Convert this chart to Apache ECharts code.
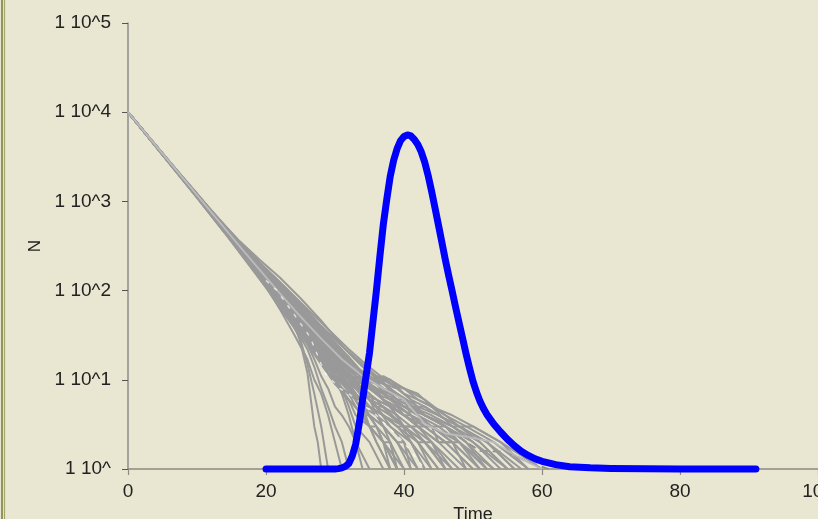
<!DOCTYPE html>
<html><head><meta charset="utf-8">
<script src="https://cdn.jsdelivr.net/npm/echarts@6/dist/echarts.min.js"></script>
<style>html,body{margin:0;padding:0;background:#E9E7D2;overflow:hidden;} #c{width:818px;height:519px;}</style>
</head><body><div id="c"></div>
<script>
// Axis settings / tick labels
const xTicks = [0, 20, 40, 60, 80, 100];
const yDecades = [1, 10, 100, 1000, 10000, 100000];
const xName = 'Time';
const yName = 'N';

// Blue curve: [time, N]
const blueCurve = [
  [20,1],[25,1],[30,1],[30.5,1.01],[31,1.03],[31.5,1.07],[32,1.15],[32.5,1.4],[33,1.9],[33.5,3.2],[34,6],
  [34.5,11],[35,20],[35.5,45],[36,100],[36.5,240],[37,550],[37.5,1050],[38,1900],[38.5,2900],[39,3900],
  [39.5,4800],[40,5350],[40.5,5560],[41,5420],[41.5,4950],[42,4350],[42.5,3600],[43,2750],[43.5,1950],
  [44,1300],[44.5,840],[45,540],[45.5,345],[46,220],[46.5,145],[47,97],[47.5,64],[48,43],[48.5,29],
  [49,19.5],[49.5,13.5],[50,9.6],[50.5,7.3],[51,5.8],[51.5,4.8],[52,4.1],[53,3.2],[54,2.6],[55,2.15],
  [56,1.82],[57,1.58],[58,1.42],[59,1.3],[60,1.22],[62,1.12],[64,1.06],[67,1.03],[70,1.015],[75,1.005],
  [80,1],[91,1]
];

// Grey stochastic runs: [time, N]
const run01 = [[0,10000],[6,2750],[12,760],[16,320],[19,170],[22,88],[25,46],[28,24],[31,13],[34,8],[36,6],[38,4],[40,3],[42,2],[45,1]];
const run02 = [[0,10000],[6,2700],[12,720],[16,290],[19,145],[22,70],[25,36],[28,18],[30,10],[32,6],[34,4],[35,3],[37,2],[39,1]];
const run03 = [[0,10000],[6,2790],[12,790],[16,360],[19,210],[22,125],[25,72],[28,40],[31,24],[34,15],[36,11],[38,8],[40,6],[43,4],[47,3],[51,2],[55,1]];
const run04 = [[0,10000],[6,2740],[12,740],[16,305],[19,160],[22,80],[25,40],[27,26],[29,17],[31,12],[33,9],[35,6],[37,5],[40,3],[43,2],[46,1]];
const run05 = [[0,10000],[6,2720],[12,730],[16,298],[19,150],[22,74],[24,45],[25,26],[26,12],[26.5,6],[27,3],[27.5,2],[28,1]];
const run06 = [[0,10000],[6,2800],[12,775],[16,335],[19,185],[22,102],[25,56],[28,31],[31,18],[33,12],[35,10],[37,9],[38.5,7],[40,6],[41,4],[43,3],[46,2],[50,1]];
const run07 = [[0,10000],[6,2710],[12,725],[16,285],[19,140],[22,68],[25,33],[28,17],[30,11],[32,8],[33.5,5],[35,3],[36,2],[38,1]];
const run08 = [[0,10000],[6,2760],[12,755],[16,315],[19,168],[22,92],[25,50],[28,29],[31,16],[33,11],[35,8],[37,7],[39,6],[41,5],[43,5],[45,4],[48,3],[52,2],[57,1]];
const run09 = [[0,10000],[6,2735],[12,738],[16,300],[19,155],[22,78],[25,38],[28,20],[30,11],[31,7],[32,4],[33,2],[34,1]];
const run10 = [[0,10000],[6,2770],[12,770],[16,330],[19,182],[22,104],[25,58],[28,32],[31,17],[33,11],[34,10],[36,9],[37.5,10],[39,8],[41,6],[43,4],[46,3],[49,2],[53,1]];
const run11 = [[0,10000],[6,2745],[12,748],[16,310],[19,162],[22,84],[25,43],[28,23],[31,11],[33,7],[35,4],[37,3],[39,2],[42,1]];
const run12 = [[0,10000],[6,2725],[12,732],[16,292],[19,146],[22,72],[25,35],[28,17],[29,12],[30,9],[31,8],[32,5],[33,3],[35,2],[37,1]];
const run13 = [[0,10000],[6,2785],[12,785],[16,350],[19,205],[22,118],[25,68],[28,40],[31,24],[33,17],[35,12],[37,9],[39,7],[42,5],[45,4],[48,3],[52,2],[56,1]];
const run14 = [[0,10000],[6,2755],[12,752],[16,318],[19,172],[22,90],[25,47],[28,25],[31,14],[33,10],[35,6],[37,4],[39,3],[41,2],[43,1]];
const run15 = [[0,10000],[6,2715],[12,728],[16,288],[19,142],[22,66],[25,30],[26,22],[27,14],[28,8],[29,5],[30,3],[31,2],[32,1]];
const run16 = [[0,10000],[6,2765],[12,765],[16,325],[19,175],[22,94],[25,49],[28,27],[31,15],[33,11],[35,9],[37,6],[39,5],[41,4],[44,3],[47,2],[51,1]];
const run17 = [[0,10000],[6,2748],[12,750],[16,312],[19,165],[22,86],[25,45],[28,22],[30,13],[32,9],[33,7],[34,4],[35,3],[36,2],[38,1]];
const run18 = [[0,10000],[6,2795],[12,795],[16,370],[19,225],[22,140],[25,82],[28,46],[30,30],[32,20],[34,14],[36,11],[38,10],[40,8],[43,6],[46,4],[49,3],[53,2],[58,1]];
const run19 = [[0,10000],[6,2738],[12,742],[16,302],[19,158],[22,81],[25,41],[28,21],[31,12],[33,8],[35,5],[37,4],[40,3],[43,2],[47,1]];
const run20 = [[0,10000],[6,2758],[12,758],[16,316],[19,166],[22,87],[25,44],[28,24],[31,13],[33,9],[35,7],[36,5],[38,3],[40,2],[41,1]];
const run21 = [[0,10000],[6,2728],[12,735],[16,296],[19,152],[22,76],[25,37],[28,19],[30,12],[32,8],[34,5],[36,4],[38,3],[41,2],[44,1]];
const run22 = [[0,10000],[6,2775],[12,772],[16,335],[19,190],[22,110],[25,62],[28,34],[31,19],[33,13],[35,10],[36,11],[38,9],[40,8],[42,6],[44,5],[47,3],[50,2],[54,1]];
const run23 = [[0,10000],[6,2742],[12,745],[16,306],[19,163],[22,83],[25,42],[28,23],[30,15],[32,10],[34,8],[36,6],[38,5],[40,4],[42,3],[45,2],[49,1]];
const run24 = [[0,10000],[6,2768],[12,762],[16,322],[19,170],[22,89],[25,48],[28,26],[31,14],[33,9],[35,6],[37,3],[38,2],[40,1]];
const run25 = [[0,10000],[6,2732],[12,738],[16,298],[19,154],[22,77],[25,39],[28,20],[30,13],[32,10],[34,7],[36,5],[38,4],[40,3],[42,2],[44,2],[46,1]];
const run26 = [[0,10000],[6,2780],[12,780],[16,345],[19,200],[22,115],[25,66],[28,38],[31,21],[33,14],[35,11],[37,8],[39,6],[41,5],[44,4],[47,3],[50,3],[54,2],[60,1]];
const run27 = [[0,10000],[6,2752],[12,754],[16,314],[19,167],[22,85],[25,42],[28,22],[30,14],[32,11],[34,9],[36,8],[38,6],[40,5],[42,4],[44,3],[47,2],[51,1]];
const run28 = [[0,10000],[6,2722],[12,730],[16,294],[19,148],[22,71],[25,34],[27,20],[29,12],[31,8],[33,6],[35,5],[37,4],[39,3],[42,2],[45,1]];
const run29 = [[0,10000],[6,2762],[12,760],[16,320],[19,171],[22,91],[25,48],[28,26],[31,16],[34,11],[36,9],[38,6],[41,4],[44,3],[48,2],[52,1]];
const run30 = [[0,10000],[6,2746],[12,748],[16,308],[19,161],[22,82],[25,43],[28,24],[30,14],[32,9],[33,6],[34,5],[36,3],[38,2],[39,1]];
const run31 = [[0,10000],[5,3400],[10,1200],[14,505],[17,280],[20,155],[23,90],[26,52],[29,30],[31,20],[33,14],[35,10],[37,8],[39,7],[41,5],[43,4],[46,3],[50,2],[55,1]];
const run32 = [[0,10000],[5,3330],[10,1110],[14,450],[17,225],[20,112],[22,62],[24,33],[26,17],[27,10],[28,7],[29,4],[30,2],[31,1]];
const run33 = [[0,10000],[5,3360],[10,1140],[14,470],[17,245],[20,122],[23,62],[26,31],[28,19],[30,13],[32,9],[34,7],[36,6],[38,5],[40,4],[42,3],[44,2],[47,1]];
const run34 = [[0,10000],[5,3420],[10,1230],[14,520],[17,300],[20,175],[23,105],[26,62],[29,37],[32,22],[34,16],[36,12],[38,9],[40,8],[42,7],[44,5],[47,4],[50,3],[54,2],[58,1]];
const run35 = [[0,10000],[5,3340],[10,1120],[14,458],[17,232],[20,114],[23,55],[25,35],[27,21],[29,13],[31,9],[33,6],[35,4],[37,3],[39,2],[41,1]];
const run36 = [[0,10000],[5,3370],[10,1160],[14,480],[17,256],[20,130],[23,67],[26,36],[29,20],[31,14],[32,11],[34,10],[36,7],[38,5],[40,3],[42,2],[44,1]];
const run37 = [[0,10000],[5,3320],[10,1100],[14,445],[17,220],[20,108],[22,64],[24,40],[25,28],[26,15],[27,7],[28,3],[29,1]];
const run38 = [[0,10000],[5,3390],[10,1190],[14,495],[17,275],[20,155],[23,88],[26,50],[29,28],[31,18],[33,12],[35,10],[37,11],[38,10],[40,7],[42,6],[44,5],[46,4],[48,3],[52,2],[56,1]];
const run39 = [[0,10000],[5,3345],[10,1125],[14,462],[17,236],[20,117],[23,58],[26,29],[28,17],[30,11],[31,7],[33,5],[35,3],[37,2],[40,1]];
const run40 = [[0,10000],[5,3365],[10,1150],[14,476],[17,250],[20,127],[23,64],[26,34],[29,18],[31,12],[33,10],[35,8],[37,6],[40,4],[43,3],[46,2],[50,1]];
const run41 = [[0,10000],[5,3410],[10,1210],[14,510],[17,290],[20,168],[23,98],[26,56],[29,32],[32,18],[34,12],[35,11],[37,9],[39,8],[41,6],[43,5],[45,4],[48,3],[51,2],[55,1]];
const run42 = [[0,10000],[5,3325],[10,1105],[14,448],[17,226],[20,110],[23,53],[26,25],[28,15],[30,9],[32,6],[33,4],[35,3],[37,2],[39,1]];
const run43 = [[0,10000],[5,3380],[10,1170],[14,485],[17,262],[20,140],[23,76],[26,42],[29,23],[31,15],[33,11],[35,8],[37,6],[39,4],[41,3],[44,2],[48,1]];
const run44 = [[0,10000],[5,3355],[10,1135],[14,466],[17,242],[20,123],[23,61],[26,32],[28,21],[30,14],[32,10],[34,9],[36,7],[38,6],[40,5],[43,4],[46,3],[49,2],[52,1]];
const run45 = [[0,10000],[5,3335],[10,1115],[14,455],[17,230],[20,115],[22,74],[24,44],[26,25],[27,17],[28,11],[29,8],[30,5],[31,4],[32,3],[33,2],[35,1]];
const run46 = [[0,10000],[5,3400],[10,1195],[14,500],[17,280],[20,158],[23,86],[26,48],[29,27],[32,15],[34,10],[36,8],[38,7],[40,5],[42,4],[45,3],[48,2],[53,1]];
const run47 = [[0,10000],[5,3372],[10,1155],[14,472],[17,248],[20,128],[23,65],[26,35],[29,19],[31,13],[33,8],[35,6],[37,5],[39,4],[41,2],[43,1]];
const run48 = [[0,10000],[5,3350],[10,1130],[14,464],[17,238],[20,120],[23,59],[26,30],[29,16],[31,10],[33,7],[35,5],[37,4],[39,3],[42,3],[45,2],[48,2],[52,1]];
const run49 = [[0,10000],[7,2200],[13,640],[17,270],[20,140],[23,72],[26,38],[28,25],[29,20],[30,17],[31,12],[32,10],[33,8],[34,8],[35,6],[36,5],[37,5],[38,4],[40,3],[41,3],[43,2],[46,1]];
const run50 = [[0,10000],[7,2180],[13,620],[17,255],[20,128],[23,64],[26,32],[27,25],[28,19],[29,15],[30,13],[31,10],[32,9],[33,7],[34,5],[35,5],[36,4],[37,3],[39,2],[40,2],[42,1]];
const run51 = [[0,10000],[7,2230],[13,660],[17,285],[20,150],[23,80],[26,43],[28,30],[29,24],[30,19],[31,16],[32,14],[33,11],[34,10],[35,9],[36,8],[37,7],[38,7],[39,6],[40,6],[41,5],[42,4],[44,3],[46,3],[48,2],[51,1]];
const run52 = [[0,10000],[7,2160],[13,610],[17,245],[20,120],[23,58],[25,37],[27,24],[29,14],[30,11],[31,8],[32,7],[33,5],[34,4],[35,4],[36,3],[37,2],[38,2],[39,1]];
const run53 = [[0,10000],[7,2210],[13,650],[17,278],[20,145],[23,76],[26,40],[28,26],[30,17],[32,12],[33,10],[34,9],[35,9],[36,8],[37,6],[38,5],[39,5],[40,4],[41,4],[42,3],[44,3],[45,2],[47,2],[49,1]];
const run54 = [[0,10000],[7,2190],[13,630],[17,262],[20,133],[23,68],[26,35],[28,22],[30,13],[31,10],[32,8],[33,6],[34,5],[35,3],[36,3],[37,2],[38,1]];
const runLight = [[0,10000],[6,2772],[12,768],[16,326],[19,174],[22,93],[25,51],[28,29],[31,17],[34,11],[37,8],[40,6],[43,3.2],[46,2.5],[49,2.3],[53,2],[55,1.6],[57,1.3],[60,1]];
const runDashed = [[0,10000],[6,2750],[12,752],[16,316],[19,168],[22,88],[25,46],[28,25],[31,15],[34,10],[37,7],[40,5],[43,4],[46,3],[49,2],[51,1.6],[55,1.55],[58,1.2],[61,1]];
const runMeanWhite = [[20,130],[21.6,100],[24,55],[26.4,30],[28.5,12],[30.7,8],[32.2,6.8],[36,4],[39.7,2.1],[42,1.26],[43,1]];

const greyRuns = [run01,run02,run03,run04,run05,run06,run07,run08,run09,run10,run11,run12,run13,run14,run15,
  run16,run17,run18,run19,run20,run21,run22,run23,run24,run25,run26,run27,run28,run29,run30,
  run31,run32,run33,run34,run35,run36,run37,run38,run39,run40,run41,run42,run43,run44,run45,run46,run47,run48,
  run49,run50,run51,run52,run53,run54];

const chart = echarts.init(document.getElementById('c'), null, {renderer:'canvas'});
const series = [];
series.push({type:'line', data:runDashed, showSymbol:false, silent:true, z:1, clip:true,
  lineStyle:{color:'#8c8c8c', width:1.8, type:[8,5]}});
greyRuns.forEach(r => series.push({
  type:'line', data:r, showSymbol:false, silent:true, z:2, clip:true,
  lineStyle:{color:'#999999', width:2}
}));
series.push({type:'line', data:runLight, showSymbol:false, silent:true, z:2, clip:true,
  lineStyle:{color:'#bbbbbb', width:1.8}});
series.push({type:'line', data:runMeanWhite, showSymbol:false, silent:true, z:3, clip:true,
  lineStyle:{color:'rgba(255,255,255,0.7)', width:1.4, type:[4,7]}});
series.push({type:'line', data:blueCurve, showSymbol:false, silent:true, z:5, clip:false, smooth:false,
  lineStyle:{color:'#0000FF', width:7, cap:'round', join:'round'}});

const font = '"Liberation Sans", Arial, sans-serif';
chart.setOption({
  animation:false,
  backgroundColor:'#E9E7D2',
  grid:{left:128, right:0, top:23, bottom:50, containLabel:false, outerBoundsMode:'none'},
  xAxis:{
    type:'value', min:xTicks[0], max:xTicks[xTicks.length-1], interval:20,
    name:xName, nameLocation:'middle', nameGap:31,
    nameTextStyle:{color:'#222', fontSize:18, fontFamily:font},
    axisLine:{show:true, onZero:false, lineStyle:{color:'#8a8a80', width:1.5}},
    axisTick:{show:true, length:6, lineStyle:{color:'#8a8a80', width:1.2}},
    axisLabel:{color:'#222', fontSize:19, fontFamily:font, margin:13},
    splitLine:{show:false}
  },
  yAxis:{
    type:'log', logBase:10, min:yDecades[0], max:yDecades[yDecades.length-1],
    name:yName, nameLocation:'middle', nameGap:83, nameRotate:90,
    nameTextStyle:{color:'#222', fontSize:17, fontFamily:font},
    axisLine:{show:true, lineStyle:{color:'#8c8c8c', width:1.5}},
    axisTick:{show:true, length:6, lineStyle:{color:'#555', width:1}},
    axisLabel:{color:'#222', fontSize:19, fontFamily:font, margin:17,
      formatter: v => { const e = Math.round(Math.log10(v)); return '1 10^' + (e === 0 ? '' : e); }},
    splitLine:{show:false}
  },
  graphic:[
    {type:'line', shape:{x1:2, y1:0, x2:2, y2:519}, style:{stroke:'#7c7f40', lineWidth:1.6}, silent:true},
    {type:'line', shape:{x1:4.5, y1:0, x2:4.5, y2:519}, style:{stroke:'#a4a66c', lineWidth:1.2}, silent:true}
  ],
  series
});
</script></body></html>
